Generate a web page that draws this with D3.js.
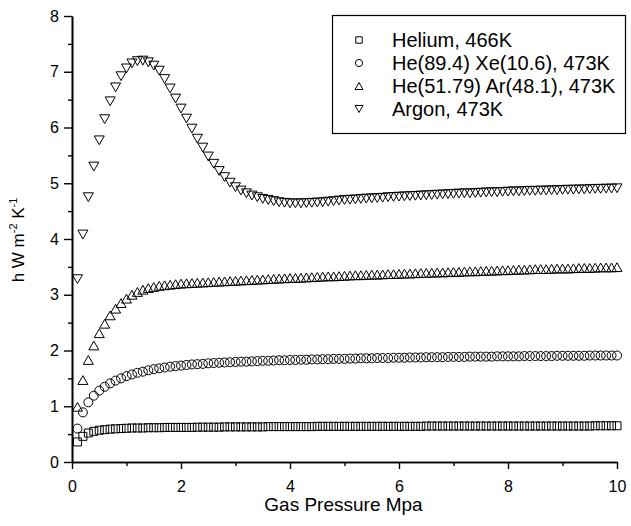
<!DOCTYPE html>
<html>
<head>
<meta charset="utf-8">
<script src="https://cdn.jsdelivr.net/npm/d3@7"></script>
<style>
  body { margin: 0; background: #fff; }
  text { font-family: Arial, "Liberation Sans", sans-serif; fill: #000; }
</style>
</head>
<body>
<svg id="chart" width="631" height="526"></svg>
<script>
// pressure in MPa, one sample per 0.1 MPa
var pressure = [
  0.1,0.2,0.3,0.4,0.5,0.6,0.7,0.8,0.9,1.0,
  1.1,1.2,1.3,1.4,1.5,1.6,1.7,1.8,1.9,2.0,
  2.1,2.2,2.3,2.4,2.5,2.6,2.7,2.8,2.9,3.0,
  3.1,3.2,3.3,3.4,3.5,3.6,3.7,3.8,3.9,4.0,
  4.1,4.2,4.3,4.4,4.5,4.6,4.7,4.8,4.9,5.0,
  5.1,5.2,5.3,5.4,5.5,5.6,5.7,5.8,5.9,6.0,
  6.1,6.2,6.3,6.4,6.5,6.6,6.7,6.8,6.9,7.0,
  7.1,7.2,7.3,7.4,7.5,7.6,7.7,7.8,7.9,8.0,
  8.1,8.2,8.3,8.4,8.5,8.6,8.7,8.8,8.9,9.0,
  9.1,9.2,9.3,9.4,9.5,9.6,9.7,9.8,9.9,10.0
]

var helium = [
  .36,.46,.52,.55,.57,.58,.59,.595,.60,.605,
  .61,.61,.61,.615,.615,.615,.62,.62,.62,.62,
  .62,.62,.625,.625,.625,.625,.625,.63,.63,.63,
  .63,.63,.63,.63,.63,.635,.635,.635,.635,.635,
  .635,.635,.635,.635,.64,.64,.64,.64,.64,.64,
  .64,.64,.64,.64,.64,.64,.64,.64,.64,.64,
  .64,.64,.64,.64,.645,.645,.645,.645,.645,.645,
  .645,.645,.645,.645,.645,.645,.645,.645,.645,.645,
  .645,.645,.645,.645,.645,.645,.645,.645,.645,.645,
  .645,.645,.645,.645,.645,.65,.65,.65,.65,.65
]

var heXe = [
  .60,.89,1.07,1.19,1.28,1.35,1.41,1.46,1.50,1.54,
  1.57,1.60,1.62,1.645,1.665,1.68,1.695,1.71,1.72,1.73,
  1.74,1.75,1.755,1.76,1.77,1.775,1.78,1.785,1.79,1.795,
  1.80,1.80,1.805,1.81,1.815,1.815,1.82,1.825,1.825,1.83,
  1.83,1.835,1.835,1.84,1.84,1.845,1.845,1.85,1.85,1.85,
  1.855,1.855,1.86,1.86,1.86,1.865,1.865,1.865,1.87,1.87,
  1.87,1.875,1.875,1.875,1.88,1.88,1.88,1.88,1.885,1.885,
  1.885,1.885,1.89,1.89,1.89,1.89,1.89,1.895,1.895,1.895,
  1.895,1.895,1.90,1.90,1.90,1.90,1.90,1.90,1.905,1.905,
  1.905,1.905,1.905,1.905,1.91,1.91,1.91,1.91,1.91,1.91
]

var heAr = [
  .99,1.47,1.83,2.09,2.31,2.48,2.63,2.75,2.85,2.93,
  3.00,3.05,3.09,3.12,3.14,3.16,3.17,3.18,3.19,3.20,
  3.205,3.21,3.215,3.22,3.225,3.23,3.235,3.24,3.245,3.25,
  3.255,3.26,3.265,3.27,3.275,3.28,3.285,3.29,3.295,3.30,
  3.30,3.305,3.31,3.315,3.32,3.325,3.33,3.33,3.335,3.34,
  3.345,3.35,3.35,3.355,3.36,3.36,3.365,3.37,3.37,3.375,
  3.38,3.38,3.385,3.39,3.39,3.395,3.40,3.40,3.405,3.41,
  3.41,3.415,3.42,3.42,3.425,3.43,3.43,3.435,3.44,3.44,
  3.445,3.45,3.45,3.455,3.46,3.46,3.46,3.465,3.47,3.47,
  3.47,3.475,3.48,3.48,3.48,3.485,3.49,3.49,3.49,3.495
]

var argon = [
  3.28,4.08,4.75,5.30,5.77,6.15,6.47,6.72,6.92,7.06,
  7.15,7.19,7.20,7.17,7.11,7.02,6.87,6.70,6.52,6.34,
  6.16,5.98,5.80,5.64,5.48,5.35,5.22,5.11,5.01,4.93,
  4.87,4.82,4.78,4.75,4.72,4.70,4.68,4.66,4.65,4.64,
  4.64,4.64,4.645,4.65,4.655,4.66,4.67,4.68,4.69,4.70,
  4.705,4.71,4.72,4.725,4.73,4.735,4.74,4.75,4.755,4.76,
  4.765,4.77,4.775,4.78,4.785,4.79,4.795,4.80,4.805,4.81,
  4.815,4.82,4.82,4.825,4.83,4.835,4.84,4.84,4.845,4.85,
  4.855,4.855,4.86,4.865,4.865,4.87,4.87,4.875,4.875,4.88,
  4.885,4.885,4.89,4.89,4.895,4.90,4.90,4.905,4.905,4.91
]

var seriesNames = ["Helium, 466K", "He(89.4) Xe(10.6), 473K", "He(51.79) Ar(48.1), 473K", "Argon, 473K"]
var xTicks = [0, 2, 4, 6, 8, 10]
var yTicks = [0, 1, 2, 3, 4, 5, 6, 7, 8]

var svg = d3.select('#chart'),
    width = +svg.attr("width"),
    height = +svg.attr("height");

var margin = {left: 72, right: 14, top: 16, bottom: 64}

var x = d3.scaleLinear().domain([0, 10]).range([margin.left, width - margin.right])
var y = d3.scaleLinear().domain([0, 8]).range([height - margin.bottom, margin.top])

// marker paths, centred on 0,0
function square(s) { return "M" + (-s/2) + "," + (-s/2) + "h" + s + "v" + s + "h" + (-s) + "Z" }
function circle(s) { var r = s/2; return "M" + (-r) + ",0a" + r + "," + r + " 0 1,0 " + (2*r) + ",0a" + r + "," + r + " 0 1,0 " + (-2*r) + ",0Z" }
function triUp(s) { var h = s * 0.88; return "M0," + (-h/2) + "L" + (s/2) + "," + (h/2) + "L" + (-s/2) + "," + (h/2) + "Z" }
function triDown(s) { var h = s * 0.88; return "M0," + (h/2) + "L" + (s/2) + "," + (-h/2) + "L" + (-s/2) + "," + (-h/2) + "Z" }

var series = [
  {name: seriesNames[0], values: helium, shape: square, size: 8},
  {name: seriesNames[1], values: heXe, shape: circle, size: 9},
  {name: seriesNames[2], values: heAr, shape: triUp, size: 10},
  {name: seriesNames[3], values: argon, shape: triDown, size: 10}
]

// axes
var xAxis = svg.append("g")
  .attr("transform", "translate(0," + y(0) + ")")
  .call(d3.axisBottom(x).tickValues(xTicks).tickSize(7).tickSizeOuter(0).tickFormat(d3.format("d")))
var xMinor = svg.append("g")
  .attr("transform", "translate(0," + y(0) + ")")
  .call(d3.axisBottom(x).tickValues([1, 3, 5, 7, 9]).tickSize(4).tickSizeOuter(0).tickFormat(""))
var yAxis = svg.append("g")
  .attr("transform", "translate(" + x(0) + ",0)")
  .call(d3.axisLeft(y).tickValues(yTicks).tickSize(8).tickSizeOuter(0).tickFormat(d3.format("d")))
var yMinor = svg.append("g")
  .attr("transform", "translate(" + x(0) + ",0)")
  .call(d3.axisLeft(y).tickValues([0.5, 1.5, 2.5, 3.5, 4.5, 5.5, 6.5, 7.5]).tickSize(4).tickSizeOuter(0).tickFormat(""))

svg.selectAll(".domain").attr("stroke", "#000").attr("stroke-width", 1.6)
svg.selectAll(".tick line").attr("stroke", "#000").attr("stroke-width", 1.4)
xAxis.selectAll(".tick text").attr("font-size", 16).attr("font-family", "Arial, 'Liberation Sans', sans-serif").attr("dy", "1.25em")
yAxis.selectAll(".tick text").attr("font-size", 16).attr("font-family", "Arial, 'Liberation Sans', sans-serif").attr("x", -13)

// axis titles
svg.append("text")
  .attr("x", (x(0) + x(10)) / 2 - 1)
  .attr("y", 511)
  .attr("text-anchor", "middle")
  .attr("font-size", 19)
  .text("Gas Pressure Mpa")

var yTitle = svg.append("text")
  .attr("transform", "translate(24," + 240 + ") rotate(-90)")
  .attr("text-anchor", "middle")
  .attr("font-size", 17)
yTitle.append("tspan").text("h W m")
yTitle.append("tspan").attr("font-size", 11).attr("dy", -7).text("-2")
yTitle.append("tspan").attr("dy", 7).text(" K")
yTitle.append("tspan").attr("font-size", 11).attr("dy", -7).text("-1")

// markers
series.forEach(function(s) {
  svg.append("g")
    .attr("class", "markers")
    .selectAll("path")
    .data(s.values)
    .enter().append("path")
    .attr("d", s.shape(s.size))
    .attr("transform", (d, i) => "translate(" + x(pressure[i]) + "," + y(d) + ")")
    .attr("fill", "none")
    .attr("stroke", "#000")
    .attr("stroke-width", 1)
})

// legend
var legend = svg.append("g").attr("class", "legend")
legend.append("rect")
  .attr("x", 332.5).attr("y", 15.5)
  .attr("width", 293).attr("height", 118)
  .attr("fill", "#fff").attr("stroke", "#000").attr("stroke-width", 1.2)

series.forEach(function(s, i) {
  var ly = 40 + i * 23
  legend.append("path")
    .attr("d", s.shape(s.size * 0.8))
    .attr("transform", "translate(359," + ly + ")")
    .attr("fill", "none").attr("stroke", "#000").attr("stroke-width", 1)
  legend.append("text")
    .attr("x", 392).attr("y", ly)
    .attr("dy", "0.36em")
    .attr("font-size", 20)
    .text(s.name)
})
</script>
</body>
</html>
